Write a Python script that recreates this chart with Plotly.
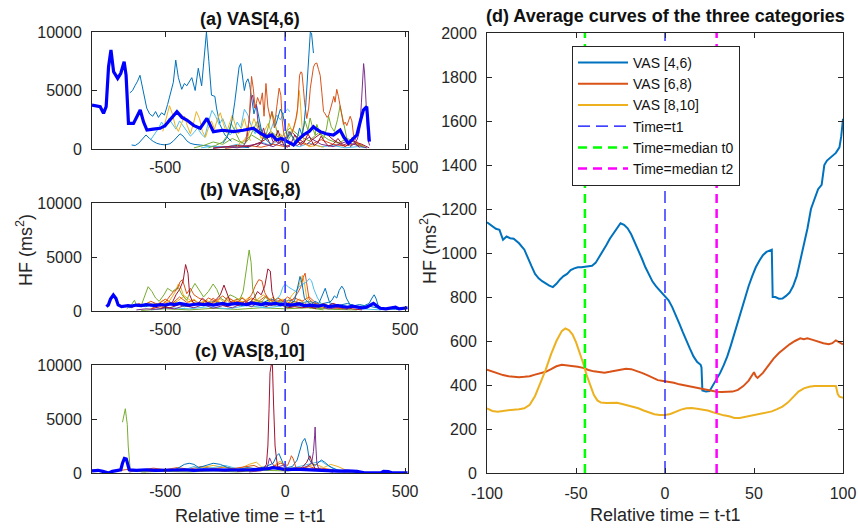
import plotly.graph_objects as go

# ---------------- data ----------------
# Panel (a) VAS[4,6): individual HF traces (relative time, HF value)
A_BLUE_1 = [(-647, 4800), (-636, 5000), (-626, 5400), (-615, 5800), (-605, 6300), (-598, 5600), (-591, 4600),
            (-577, 3500), (-565, 3000), (-552, 2800), (-540, 3200), (-528, 2700), (-515, 3100), (-503, 2900),
            (-490, 3800), (-478, 4800), (-466, 5700), (-456, 7600), (-445, 6100), (-431, 5100), (-420, 5600),
            (-410, 5400), (-398, 5800), (-389, 6100), (-375, 5000), (-362, 6900), (-348, 5400), (-340, 7500),
            (-334, 8600), (-328, 10000), (-318, 7500), (-307, 4600), (-293, 4500), (-286, 3500), (-272, 2100),
            (-251, 1200), (-224, 650)]
A_LIGHTBLUE = [(-560, 800), (-545, 1200), (-530, 1700), (-515, 2300), (-500, 1800), (-485, 2600), (-470, 2200),
               (-455, 1700), (-440, 2400), (-425, 2000), (-410, 1500), (-395, 1100), (-380, 1400), (-365, 1800),
               (-350, 1300), (-335, 1000), (-320, 2300), (-305, 3300), (-290, 2800), (-275, 2100), (-260, 2600),
               (-245, 1800), (-230, 1200), (-215, 1500), (-200, 2300), (-185, 1800), (-170, 3400), (-155, 2900),
               (-140, 1900), (-125, 1300), (-110, 2100), (-95, 1500), (-80, 800), (-65, 1300), (-50, 2200),
               (-35, 2900), (-20, 2500), (-5, 3100), (10, 3400), (20, 3200)]
A_YELLOW = [(-510, 1500), (-495, 2600), (-482, 3700), (-470, 3000), (-458, 2000), (-445, 1500), (-432, 2200),
            (-420, 2800), (-408, 2000), (-395, 1300), (-382, 2200), (-370, 3200), (-357, 2600), (-345, 1500),
            (-332, 1000), (-320, 1800), (-307, 2400), (-295, 1700), (-283, 2500), (-270, 3100), (-258, 2200),
            (-245, 1400), (-233, 2100), (-220, 2900), (-207, 2000), (-195, 1300), (-182, 1800), (-170, 2600),
            (-157, 1500), (-145, 700)]
A_BLUE_2 = [(-640, 340), (-625, 300), (-610, 500), (-595, 900), (-580, 1200), (-565, 900), (-550, 650),
            (-535, 490), (-520, 400), (-500, 350), (-480, 450), (-465, 700), (-450, 1000), (-438, 1300),
            (-425, 1100), (-410, 700), (-396, 490), (-380, 400), (-354, 340), (-330, 250), (-300, 200),
            (-270, 180), (-240, 150), (-210, 200), (-180, 150), (-150, 120)]
A_ORANGE = [(-165, 600), (-150, 2500), (-140, 6200), (-133, 5200), (-125, 3500), (-115, 4400), (-104, 3800),
            (-95, 4800), (-88, 2800), (-80, 5600), (-72, 3600), (-62, 2600), (-55, 3200), (-45, 1800),
            (-35, 3600), (-25, 5200), (-18, 4600), (-12, 2400), (-5, 1200), (5, 800), (15, 1500), (25, 1200),
            (35, 1800), (45, 2600), (52, 3500), (60, 6300), (66, 6600), (70, 6500), (76, 5200), (81, 4000),
            (90, 2600), (98, 3500), (105, 5200), (111, 6100), (118, 7000), (125, 7300), (132, 7350), (139, 6800),
            (146, 6300), (153, 4800), (160, 3200), (167, 3000), (175, 2700), (182, 2900), (188, 3400),
            (196, 4100), (203, 4500), (208, 4000), (215, 5100), (222, 4500), (229, 3800), (236, 2800),
            (243, 2100), (250, 2300), (257, 2000), (264, 2400), (271, 2800), (278, 2400), (285, 1200),
            (292, 900), (298, 600), (305, 400), (315, 300)]
A_PURPLE_1 = [(270, 200), (285, 400), (300, 800), (310, 1500), (318, 4000), (323, 6800), (327, 7300),
              (331, 6500), (336, 4000), (340, 2000), (345, 800), (352, 300)]
A_PURPLE_2 = [(-175, 200), (-160, 800), (-150, 2500), (-143, 4200), (-135, 4600), (-128, 3500), (-120, 3800),
              (-112, 2000), (-100, 1200), (-90, 1800), (-80, 900), (-65, 1400), (-50, 600), (-35, 900),
              (-20, 400), (0, 300), (20, 200)]
A_GREEN = [(-320, 100), (-290, 300), (-260, 600), (-240, 1200), (-225, 2200), (-210, 1500), (-190, 700),
           (-170, 400), (-150, 900), (-130, 1800), (-115, 2400), (-100, 1500), (-85, 800), (-70, 1900),
           (-55, 3200), (-45, 2500), (-35, 1500), (-20, 700), (-5, 500), (10, 700), (25, 1200), (40, 800),
           (55, 600), (70, 1200), (83, 2400), (95, 1600), (104, 2650), (115, 1800), (125, 1200), (132, 2100),
           (145, 1300), (160, 900), (172, 1700), (181, 2800), (192, 1900), (205, 1500), (218, 2500),
           (229, 3700), (238, 2800), (248, 1500), (260, 600), (275, 200)]
A_DARKRED = [(-120, 200), (-100, 500), (-85, 1400), (-72, 800), (-60, 300), (-45, 700), (-30, 1600), (-18, 900),
             (-5, 300), (10, 150), (25, 500), (40, 1200), (52, 700), (65, 300), (80, 600), (95, 1300), (108, 800),
             (120, 300), (135, 500), (150, 1100), (165, 600), (180, 250), (200, 400), (220, 900), (235, 500),
             (250, 200), (265, 500), (280, 1000), (295, 400), (310, 150)]
A_BLUE_3 = [(-40, 2000), (-30, 2800), (-20, 3400), (-10, 3000), (0, 1800), (10, 900), (20, 1500), (30, 1000),
            (40, 600), (50, 900), (60, 1800), (70, 1200), (78, 2000), (85, 3500), (90, 5200), (95, 7500),
            (100, 8600), (105, 10000), (110, 9900), (114, 8600), (118, 8200)]
A_BLUE_4 = [(-260, 500), (-245, 900), (-232, 1500), (-220, 2600), (-210, 4000), (-200, 5600), (-192, 7000),
            (-185, 7300), (-178, 6200), (-170, 5000), (-163, 5700), (-155, 6000), (-148, 5500), (-140, 4200),
            (-130, 3000), (-120, 3800), (-110, 2600), (-98, 1500), (-85, 900), (-70, 600), (-55, 400)]
A_YELLOW_2 = [(-200, 300), (-170, 800), (-150, 1400), (-130, 2600), (-115, 1800), (-100, 900), (-85, 1600),
              (-70, 2200), (-55, 1200), (-40, 600), (-20, 1300), (0, 700), (15, 2200), (30, 1400), (42, 2200),
              (50, 3000), (58, 5000), (62, 4400), (70, 2000), (80, 500), (100, 200), (130, 300), (160, 150)]
A_LIGHTBLUE_2 = [(-350, 100), (-300, 250), (-250, 150), (-200, 400), (-150, 200), (-100, 600), (-60, 300),
                 (-20, 900), (20, 400), (60, 200), (100, 500), (150, 200), (200, 300), (250, 100), (300, 200),
                 (340, 100)]
A_ORANGE_2 = [(-250, 50), (-200, 150), (-150, 300), (-100, 150), (-50, 400), (0, 200), (50, 600), (100, 300),
              (150, 800), (200, 400), (250, 250), (300, 500), (330, 200)]
A_PURPLE_3 = [(-300, 100), (-250, 200), (-200, 100), (-150, 300), (-100, 500), (-50, 200), (0, 800), (50, 300),
              (100, 1000), (150, 400), (200, 200), (250, 600), (300, 300), (340, 100)]
A_GREEN_2 = [(-380, 100), (-340, 300), (-300, 600), (-260, 400), (-220, 900), (-180, 500), (-140, 1200),
             (-100, 700), (-60, 1500), (-20, 900), (20, 1800), (60, 1100), (100, 700), (140, 1400), (180, 800),
             (220, 500), (260, 900), (300, 400), (330, 200)]
A_DARKRED_2 = [(-300, 50), (-250, 150), (-200, 300), (-150, 200), (-100, 600), (-60, 1100), (-30, 500), (0, 900),
               (30, 1400), (60, 800), (90, 400), (120, 900), (160, 1500), (200, 800), (240, 300), (280, 700),
               (320, 400), (350, 100)]
A_AVERAGE = [(-805, 3760), (-785, 3700), (-771, 3615), (-757, 3050), (-746, 3615), (-736, 7030), (-726, 8460),
             (-715, 6610), (-698, 6040), (-685, 6470), (-671, 7460), (-663, 6320), (-653, 2190), (-632, 2190),
             (-604, 3330), (-590, 2300), (-576, 1620), (-550, 1700), (-521, 1770), (-500, 2000), (-479, 2480),
             (-451, 3190), (-430, 2700), (-410, 2480), (-380, 2000), (-354, 1770), (-326, 2620), (-310, 1900),
             (-299, 1480), (-260, 1600), (-215, 1480), (-175, 1600), (-132, 1770), (-100, 1300), (-76, 1050),
             (-55, 1200), (-35, 770), (-15, 900), (7, 630), (20, 500), (35, 340), (55, 800), (76, 1200),
             (100, 1500), (118, 1910), (130, 1700), (146, 1480), (170, 1300), (201, 1200), (215, 1400),
             (229, 1620), (245, 1000), (264, 490), (280, 800), (299, 1200), (315, 2500), (326, 3330),
             (340, 3615), (346, 2000), (351, 630)]

# Panel (b) VAS[6,8)
B_GREEN = [(-660, 200), (-640, 600), (-628, 1000), (-618, 400), (-600, 500), (-585, 1500), (-571, 2250),
           (-555, 1800), (-540, 1200), (-525, 900), (-505, 1500), (-490, 2100), (-470, 1800), (-446, 2200),
           (-430, 1500), (-410, 1000), (-395, 1800), (-376, 2550), (-360, 2000), (-340, 1300), (-320, 1800),
           (-300, 2500), (-285, 2000), (-270, 1200), (-250, 900), (-230, 1500), (-210, 1300), (-190, 1000),
           (-175, 1800), (-160, 4000), (-150, 5650), (-142, 4500), (-135, 2000), (-120, 1000), (-100, 800),
           (-80, 1300), (-60, 700), (-40, 500), (-20, 900), (0, 400), (20, 300), (40, 500), (60, 800),
           (80, 600), (100, 300), (130, 200), (160, 100)]
B_DARKRED = [(-520, 200), (-490, 500), (-470, 800), (-455, 1500), (-440, 2000), (-425, 2800), (-415, 4300),
             (-405, 3500), (-398, 1500), (-385, 800), (-365, 600), (-345, 1200), (-330, 900), (-310, 600),
             (-290, 1000), (-270, 1500), (-255, 2400), (-245, 1800), (-230, 900), (-210, 600), (-190, 500),
             (-170, 900), (-150, 700), (-130, 1200), (-115, 1800), (-100, 1500), (-85, 2300), (-72, 3900),
             (-62, 3700), (-55, 1800), (-45, 900), (-30, 600), (-10, 500), (10, 300), (40, 400), (70, 300),
             (100, 400), (130, 200)]
B_ORANGE = [(-560, 200), (-530, 500), (-500, 800), (-480, 1400), (-465, 1800), (-450, 2000), (-438, 2700),
            (-428, 2900), (-420, 2200), (-410, 1600), (-395, 2100), (-380, 1500), (-360, 1200), (-340, 1000),
            (-320, 700), (-300, 1200), (-280, 800), (-260, 600), (-240, 1300), (-220, 1000), (-200, 700),
            (-180, 1200), (-160, 900), (-140, 1500), (-125, 2300), (-110, 2900), (-97, 2800), (-85, 1700),
            (-70, 1100), (-50, 900), (-30, 1200), (-10, 900), (10, 1300), (30, 1000), (50, 1600), (65, 2200),
            (75, 3100), (83, 3500), (92, 2400), (100, 1100), (115, 800), (135, 500), (160, 700), (190, 400),
            (230, 300), (270, 200)]
B_LIGHTBLUE = [(-100, 300), (-70, 600), (-40, 900), (-20, 1500), (-10, 2200), (0, 2500), (15, 2200),
               (30, 2000), (45, 1800), (60, 2300), (75, 2500), (90, 2700), (100, 3000), (110, 2800),
               (120, 2000), (135, 1200), (150, 700), (170, 400), (200, 300)]
B_BLUE = [(0, 300), (20, 600), (40, 1000), (55, 2500), (62, 3200), (70, 2600), (80, 1200), (95, 800),
          (110, 600), (125, 900), (140, 700), (150, 1200), (160, 1800), (167, 2100), (175, 1500), (185, 800),
          (195, 1000), (205, 1400), (215, 1200), (225, 1900), (236, 2300), (245, 2000), (255, 1200), (270, 600),
          (290, 500), (310, 600), (330, 500), (350, 700), (362, 1200), (371, 1500), (378, 1200), (388, 500),
          (400, 300)]
B_YELLOW = [(-520, 300), (-500, 700), (-480, 1000), (-460, 1700), (-445, 2500), (-435, 2200), (-420, 1200),
            (-400, 800), (-380, 1100), (-360, 700), (-340, 900), (-320, 600), (-290, 1000), (-260, 700),
            (-230, 1100), (-200, 800), (-170, 900), (-150, 1300), (-130, 800), (-110, 1000), (-90, 600),
            (-70, 900), (-50, 1300), (-30, 800), (-10, 1100), (10, 900), (30, 1500), (50, 2000), (65, 2800),
            (72, 3300), (80, 2600), (90, 1200), (105, 700), (125, 500), (150, 300)]
B_PURPLE = [(-620, 100), (-580, 200), (-540, 150), (-500, 300), (-460, 200), (-420, 500), (-380, 300),
            (-340, 600), (-300, 250), (-260, 500), (-220, 300), (-180, 700), (-140, 400), (-100, 900),
            (-60, 500), (-20, 700), (20, 400), (60, 600), (100, 300), (140, 400), (180, 200), (220, 300),
            (260, 150)]
B_GREEN_2 = [(-600, 50), (-500, 200), (-400, 100), (-300, 250), (-200, 150), (-100, 300), (0, 200), (100, 300),
             (200, 150), (300, 100)]
B_LIGHTBLUE_2 = [(-560, 100), (-480, 300), (-400, 200), (-320, 400), (-240, 200), (-160, 500), (-80, 300),
                 (0, 500), (80, 400), (160, 300), (240, 500), (320, 200), (400, 100)]
B_ORANGE_2 = [(-640, 300), (-610, 700), (-590, 500), (-560, 900), (-530, 600), (-500, 1100), (-470, 700),
              (-440, 1300), (-410, 800), (-380, 1000), (-350, 600), (-320, 1200), (-290, 900), (-260, 1400),
              (-230, 800), (-200, 1100), (-170, 700), (-140, 1200), (-110, 900), (-80, 1400), (-50, 800),
              (-20, 1000), (10, 700), (40, 1200), (70, 900), (100, 1300), (130, 700), (160, 500), (200, 300),
              (240, 200)]
B_YELLOW_2 = [(-600, 400), (-570, 800), (-540, 500), (-510, 1000), (-480, 600), (-450, 900), (-420, 1400),
              (-390, 900), (-360, 600), (-330, 1000), (-300, 700), (-270, 1100), (-240, 500), (-210, 900),
              (-180, 1300), (-150, 700), (-120, 1000), (-90, 1500), (-60, 800), (-30, 1200), (0, 900), (30, 700),
              (60, 1100), (90, 600), (120, 400), (160, 300)]
B_BLUE_2 = [(-650, 300), (-620, 500), (-580, 400), (-540, 700), (-500, 500), (-460, 800), (-420, 400),
            (-380, 700), (-340, 500), (-300, 900), (-260, 600), (-220, 800), (-180, 500), (-140, 900),
            (-100, 700), (-60, 1100), (-20, 800), (20, 1000), (60, 700), (100, 900), (140, 600), (180, 800),
            (220, 500), (260, 700), (300, 400), (340, 500), (380, 300), (420, 200), (460, 150), (500, 200)]
B_DARKRED_2 = [(-560, 200), (-520, 400), (-480, 300), (-440, 600), (-400, 400), (-360, 800), (-320, 500),
               (-280, 700), (-240, 400), (-200, 900), (-160, 600), (-120, 700), (-80, 400), (-40, 800), (0, 500),
               (40, 900), (80, 600), (120, 400), (160, 300), (200, 700), (240, 400), (280, 200), (320, 100)]
B_AVERAGE = [(-745, 400), (-737, 560), (-728, 1100), (-716, 1480), (-705, 1150), (-696, 560), (-682, 400),
             (-670, 450), (-655, 500), (-640, 450), (-620, 550), (-600, 500), (-580, 600), (-560, 550),
             (-540, 500), (-520, 600), (-500, 550), (-480, 650), (-460, 600), (-440, 700), (-420, 650),
             (-400, 550), (-380, 600), (-360, 650), (-340, 600), (-320, 650), (-300, 550), (-280, 600),
             (-260, 700), (-240, 600), (-220, 650), (-200, 700), (-180, 650), (-160, 600), (-140, 750),
             (-120, 650), (-100, 600), (-80, 700), (-60, 650), (-40, 700), (-20, 600), (0, 650), (20, 550),
             (40, 600), (60, 650), (80, 500), (100, 550), (120, 500), (140, 450), (160, 550), (180, 400),
             (200, 450), (220, 500), (240, 400), (260, 350), (280, 450), (300, 350), (320, 300), (340, 350),
             (355, 550), (368, 710), (380, 500), (396, 250), (420, 200), (440, 300), (460, 350), (475, 200),
             (490, 250), (510, 300)]

# Panel (c) VAS[8,10]
C_GREEN = [(-678, 4700), (-674, 5200), (-670, 5600), (-666, 5950), (-662, 5200), (-658, 4500), (-654, 2500),
           (-650, 1300), (-646, 400), (-640, 200), (-620, 150), (-580, 100)]
C_DARKRED = [(-200, 150), (-150, 250), (-110, 300), (-90, 400), (-78, 800), (-72, 2500), (-67, 6000),
             (-63, 9300), (-58, 10000), (-53, 10000), (-48, 6200), (-42, 2500), (-36, 1300), (-30, 500),
             (-15, 300), (0, 250), (40, 300), (70, 500), (90, 1000), (103, 1600), (112, 1000), (125, 400),
             (150, 200), (200, 100)]
C_PURPLE = [(-150, 100), (-100, 200), (-75, 500), (-65, 1400), (-55, 900), (-40, 500), (-10, 700), (20, 300),
            (60, 400), (90, 600), (110, 900), (118, 2000), (123, 3500), (125, 4260), (128, 2500), (132, 900),
            (140, 400), (170, 200), (200, 100)]
C_BLUE = [(-480, 200), (-450, 400), (-420, 800), (-400, 900), (-380, 800), (-360, 500), (-330, 700), (-300, 900),
          (-270, 800), (-240, 500), (-200, 300), (-160, 500), (-120, 400), (-80, 600), (-50, 900), (-35, 1600),
          (-26, 1800), (-15, 1200), (-5, 700), (10, 500), (30, 600), (50, 1200), (62, 2200), (72, 2900),
          (82, 3200), (92, 2500), (100, 1300), (110, 900), (125, 700), (140, 1000), (151, 1200), (165, 1000),
          (180, 700), (195, 500), (215, 300), (240, 150)]
C_ORANGE = [(-350, 200), (-300, 400), (-250, 300), (-180, 500), (-130, 700), (-100, 400), (-60, 500),
            (-20, 900), (10, 700), (20, 1200), (26, 1600), (34, 1300), (45, 500), (70, 400), (100, 600),
            (130, 400), (170, 300), (220, 150)]
C_YELLOW = [(-500, 150), (-450, 400), (-400, 200), (-350, 500), (-300, 700), (-250, 500), (-200, 300),
            (-150, 800), (-120, 1000), (-100, 600), (-70, 300), (-40, 800), (-20, 1100), (0, 500), (30, 400),
            (60, 300), (100, 700), (130, 800), (160, 500), (190, 800), (220, 600), (260, 200), (300, 100)]
C_LIGHTBLUE = [(-420, 300), (-380, 600), (-350, 400), (-300, 500), (-250, 700), (-200, 400), (-150, 300),
               (-100, 500), (-40, 400), (0, 300), (40, 500), (80, 700), (120, 900), (150, 1100), (170, 800),
               (200, 400), (240, 200)]
C_GREEN_2 = [(-600, 100), (-500, 150), (-400, 100), (-300, 200), (-200, 100), (-100, 250), (0, 200), (100, 300),
             (200, 150), (300, 50)]
C_ORANGE_2 = [(-700, 200), (-650, 350), (-600, 250), (-550, 450), (-500, 300), (-450, 500), (-400, 350),
              (-350, 600), (-300, 400), (-250, 550), (-200, 350), (-150, 450), (-100, 300), (-50, 600), (0, 400),
              (50, 500), (100, 350), (150, 450), (200, 300), (250, 200), (300, 100)]
C_PURPLE_2 = [(-650, 100), (-600, 250), (-550, 150), (-500, 300), (-450, 200), (-400, 350), (-350, 200),
              (-300, 300), (-250, 150), (-200, 350), (-150, 200), (-100, 300), (-50, 450), (0, 250), (50, 400),
              (100, 300), (150, 200), (200, 250), (250, 100)]
C_AVERAGE = [(-805, 200), (-780, 250), (-760, 150), (-745, 50), (-735, 0), (-720, 150), (-700, 250),
             (-685, 300), (-678, 900), (-670, 1350), (-662, 1300), (-656, 700), (-650, 300), (-620, 250),
             (-580, 300), (-540, 250), (-500, 300), (-460, 280), (-420, 300), (-380, 250), (-340, 300),
             (-300, 280), (-260, 250), (-220, 300), (-180, 280), (-140, 300), (-100, 350), (-70, 400),
             (-50, 500), (-30, 450), (-10, 350), (10, 300), (40, 350), (80, 300), (120, 280), (150, 250),
             (180, 200), (220, 180), (260, 200), (300, 150), (330, 20), (360, 0), (400, 30), (410, 150),
             (430, 120), (445, 20), (480, 0), (510, 20)]

# Panel (d): average curves of the three categories (relative time, HF)
D_VAS46 = [(-100, 1140), (-97, 1120), (-95, 1110), (-93, 1105), (-91, 1060), (-89, 1075), (-87, 1067), (-85, 1065),
           (-82, 1044), (-79, 1015), (-77, 975), (-75, 940), (-73, 905), (-71, 885), (-69, 872), (-67, 860),
           (-65, 852), (-63, 845), (-61, 860), (-59, 880), (-57, 895), (-55, 905), (-53, 922), (-51, 930),
           (-49, 935), (-47, 935), (-45, 937), (-43, 940), (-41, 942), (-39, 955), (-37, 980), (-35, 1005),
           (-33, 1035), (-31, 1065), (-29, 1090), (-27, 1115), (-25, 1135), (-23, 1128), (-21, 1112),
           (-19, 1085), (-17, 1050), (-15, 1012), (-13, 975), (-11, 935), (-9, 900), (-7, 870), (-5, 848),
           (-3, 830), (-1, 812), (0, 805), (2, 785), (4, 755), (6, 720), (8, 680), (10, 640), (12, 600),
           (14, 565), (16, 530), (18, 505), (20, 492), (20.5, 480), (21, 375), (23, 370), (25, 372), (27, 400),
           (29, 428), (31, 455), (33, 490), (35, 530), (37, 580), (39, 635), (41, 690), (43, 745), (45, 800),
           (47, 850), (49, 895), (51, 935), (53, 965), (55, 990), (57, 1005), (59, 1012), (60, 1015),
           (60.5, 800), (62, 800), (64, 792), (66, 793), (68, 805), (70, 820), (72, 850), (74, 895), (75, 930),
           (78, 1030), (80, 1110), (82, 1200), (84, 1250), (86, 1290), (88, 1310), (89.5, 1400), (91, 1420),
           (93, 1435), (96, 1455), (98, 1480), (99, 1530), (100, 1610)]
D_VAS68 = [(-100, 470), (-97, 462), (-94, 452), (-91, 445), (-88, 440), (-85, 438), (-82, 435), (-79, 437),
           (-76, 440), (-73, 447), (-70, 453), (-67, 460), (-64, 472), (-61, 485), (-58, 492), (-55, 490),
           (-52, 487), (-49, 483), (-46, 478), (-43, 468), (-40, 462), (-37, 458), (-34, 456), (-31, 460),
           (-28, 465), (-25, 470), (-22, 474), (-19, 472), (-16, 465), (-13, 455), (-10, 445), (-7, 432),
           (-4, 422), (-1, 418), (2, 415), (5, 410), (8, 403), (11, 398), (14, 395), (17, 390), (20, 385),
           (23, 378), (26, 372), (29, 369), (32, 368), (35, 368), (38, 370), (41, 378), (44, 395), (47, 420),
           (49, 445), (50, 458), (51, 440), (52, 432), (55, 455), (58, 490), (61, 520), (64, 545), (67, 565),
           (70, 585), (73, 600), (76, 612), (78, 608), (80, 612), (83, 605), (86, 597), (89, 590), (92, 585),
           (94, 590), (96, 603), (98, 595), (100, 585)]
D_VAS810 = [(-100, 294), (-97, 282), (-94, 279), (-91, 283), (-88, 286), (-85, 288), (-82, 290), (-79, 294),
            (-76, 310), (-73, 350), (-70, 410), (-67, 470), (-64, 540), (-61, 600), (-58, 645), (-56, 657),
            (-54, 650), (-52, 630), (-50, 595), (-48, 550), (-46, 500), (-44, 445), (-42, 395), (-40, 355),
            (-38, 330), (-36, 320), (-33, 318), (-30, 320), (-27, 319), (-24, 314), (-21, 308), (-18, 302),
            (-15, 294), (-12, 284), (-9, 274), (-6, 267), (-3, 264), (0, 264), (3, 268), (6, 278), (9, 288),
            (12, 294), (15, 295), (18, 292), (21, 288), (24, 284), (27, 276), (30, 268), (33, 262), (36, 258),
            (39, 250), (42, 250), (45, 255), (48, 258), (51, 262), (54, 268), (57, 274), (60, 280), (63, 290),
            (66, 302), (69, 320), (72, 345), (75, 370), (78, 385), (81, 392), (84, 395), (87, 395), (90, 395),
            (93, 394), (96, 395), (97, 360), (98, 347), (100, 342)]

# Reference times (relative to t1)
T1 = 0
MEDIAN_T0 = -45
MEDIAN_T2 = 29

LEFT_XTICKS = [-500, 0, 500]
LEFT_YTICKS = [0, 5000, 10000]
D_XTICKS = [-100, -50, 0, 50, 100]
D_YTICKS = list(range(0, 2001, 200))

# ---------------- styling ----------------
W, H = 858, 532
FONT = "Liberation Sans, Arial, Helvetica, sans-serif"
AX = "#262626"
C_BLUE_M = "#0072BD"
C_ORANGE_M = "#D95319"
C_YELLOW_M = "#EDB120"
C_PURPLE_M = "#7E2F8E"
C_GREEN_M = "#77AC30"
C_LBLUE_M = "#4DBEEE"
C_DRED_M = "#A2142F"


def xdom(left, right):
    return [left / W, right / W]


def ydom(top, bottom):
    return [1 - bottom / H, 1 - top / H]


def unzip(points):
    return [p[0] for p in points], [p[1] for p in points]


fig = go.Figure()


def axis_ids(panel):
    return ("x", "y") if panel == 1 else (f"x{panel}", f"y{panel}")


def thin(points, color, panel):
    x, y = unzip(points)
    xa, ya = axis_ids(panel)
    fig.add_trace(go.Scatter(x=x, y=y, mode="lines", line=dict(color=color, width=1),
                             xaxis=xa, yaxis=ya, showlegend=False, hoverinfo="skip"))


def thick(points, panel):
    x, y = unzip(points)
    xa, ya = axis_ids(panel)
    fig.add_trace(go.Scatter(x=x, y=y, mode="lines", line=dict(color="#0000FF", width=3.2),
                             xaxis=xa, yaxis=ya, showlegend=False, hoverinfo="skip"))


def t1_line(panel, ymax):
    xa, ya = axis_ids(panel)
    fig.add_trace(go.Scatter(x=[T1, T1], y=[0, ymax], mode="lines",
                             line=dict(color="#3B3BFF", width=1.6, dash="12px,6px"),
                             xaxis=xa, yaxis=ya, showlegend=False, hoverinfo="skip"))


# Panel (a)
for pts, col in [(A_BLUE_2, C_BLUE_M), (A_LIGHTBLUE_2, C_LBLUE_M), (A_ORANGE_2, C_ORANGE_M),
                 (A_PURPLE_3, C_PURPLE_M), (A_GREEN_2, C_GREEN_M), (A_DARKRED_2, C_DRED_M),
                 (A_BLUE_1, C_BLUE_M), (A_LIGHTBLUE, C_LBLUE_M),
                 (A_YELLOW, C_YELLOW_M), (A_YELLOW_2, C_YELLOW_M), (A_GREEN, C_GREEN_M),
                 (A_DARKRED, C_DRED_M), (A_BLUE_4, C_BLUE_M), (A_PURPLE_2, C_PURPLE_M),
                 (A_ORANGE, C_ORANGE_M), (A_BLUE_3, C_BLUE_M), (A_PURPLE_1, C_PURPLE_M)]:
    thin(pts, col, 1)
thick(A_AVERAGE, 1)
t1_line(1, 10000)

# Panel (b)
for pts, col in [(B_GREEN_2, C_GREEN_M), (B_LIGHTBLUE_2, C_LBLUE_M), (B_PURPLE, C_PURPLE_M),
                 (B_BLUE_2, C_BLUE_M), (B_DARKRED_2, C_DRED_M), (B_YELLOW_2, C_YELLOW_M),
                 (B_ORANGE_2, C_ORANGE_M),
                 (B_YELLOW, C_YELLOW_M), (B_GREEN, C_GREEN_M), (B_ORANGE, C_ORANGE_M),
                 (B_DARKRED, C_DRED_M), (B_LIGHTBLUE, C_LBLUE_M), (B_BLUE, C_BLUE_M)]:
    thin(pts, col, 2)
thick(B_AVERAGE, 2)
t1_line(2, 10000)

# Panel (c)
for pts, col in [(C_GREEN_2, C_GREEN_M), (C_PURPLE_2, C_PURPLE_M), (C_ORANGE_2, C_ORANGE_M),
                 (C_YELLOW, C_YELLOW_M), (C_LIGHTBLUE, C_LBLUE_M),
                 (C_BLUE, C_BLUE_M), (C_ORANGE, C_ORANGE_M), (C_PURPLE, C_PURPLE_M),
                 (C_DARKRED, C_DRED_M), (C_GREEN, C_GREEN_M)]:
    thin(pts, col, 3)
thick(C_AVERAGE, 3)
t1_line(3, 10000)

# Panel (d): average curves and reference times
for pts, col, name in [(D_VAS46, C_BLUE_M, "VAS [4,6)"), (D_VAS68, C_ORANGE_M, "VAS [6,8)"),
                       (D_VAS810, C_YELLOW_M, "VAS [8,10]")]:
    x, y = unzip(pts)
    fig.add_trace(go.Scatter(x=x, y=y, mode="lines", name=name, line=dict(color=col, width=2),
                             xaxis="x4", yaxis="y4", hoverinfo="skip"))
for xv, col, w, dash, name in [(T1, "#0000FF", 1.2, "12px,6px", "Time=t1"),
                               (MEDIAN_T0, "#00FF00", 2.5, "9px,6px", "Time=median t0"),
                               (MEDIAN_T2, "#FF00FF", 2.5, "9px,6px", "Time=median t2")]:
    fig.add_trace(go.Scatter(x=[xv, xv], y=[D_YTICKS[0], D_YTICKS[-1]], mode="lines", name=name,
                             line=dict(color=col, width=w, dash=dash),
                             xaxis="x4", yaxis="y4", hoverinfo="skip"))

tickfont = dict(family=FONT, size=16, color=AX)
axis_common = dict(showline=True, linecolor=AX, linewidth=1, mirror="ticks", ticks="inside",
                   ticklen=5, tickcolor=AX, tickwidth=1, showgrid=False, zeroline=False,
                   tickfont=tickfont, automargin=False)


def left_x(dom_anchor):
    return dict(axis_common, domain=xdom(92, 408), range=[-805, 512], anchor=dom_anchor,
                tickvals=LEFT_XTICKS, ticktext=[f"{v}" for v in LEFT_XTICKS], ticklabelstandoff=4)


def left_y(top, bottom, anchor):
    return dict(axis_common, domain=ydom(top, bottom), range=[0, 10000], anchor=anchor,
                tickvals=LEFT_YTICKS, ticktext=[f"{v}" for v in LEFT_YTICKS], ticklabelstandoff=6)


fig.update_layout(
    width=W, height=H,
    margin=dict(l=0, r=0, t=0, b=0, autoexpand=False),
    paper_bgcolor="white", plot_bgcolor="white",
    font=dict(family=FONT, color=AX),
    xaxis=left_x("y"), yaxis=left_y(32, 149, "x"),
    xaxis2=left_x("y2"), yaxis2=left_y(203, 311, "x2"),
    xaxis3=left_x("y3"), yaxis3=left_y(365, 473, "x3"),
    xaxis4=dict(axis_common, domain=xdom(487, 843), range=[-100, 100], anchor="y4",
                tickvals=D_XTICKS, ticktext=[f"{v}" for v in D_XTICKS], ticklabelstandoff=6),
    yaxis4=dict(axis_common, domain=ydom(33, 473), range=[0, 2000], anchor="x4",
                tickvals=D_YTICKS, ticktext=[f"{v}" for v in D_YTICKS], ticklabelstandoff=6),
    showlegend=True,
    legend=dict(x=572 / W, y=1 - 46 / H, xanchor="left", yanchor="top",
                bgcolor="white", bordercolor=AX, borderwidth=1,
                font=dict(family=FONT, size=14, color="#111111"),
                itemwidth=50, tracegroupgap=0),
)

title_font = dict(family=FONT, size=18, color="#111111")
label_font = dict(family=FONT, size=18, color=AX)
annotations = [
    dict(text="<b>(a) VAS[4,6)</b>", x=250 / W, y=1 - 19 / H, font=title_font),
    dict(text="<b>(b) VAS[6,8)</b>", x=250 / W, y=1 - 190 / H, font=title_font),
    dict(text="<b>(c) VAS[8,10]</b>", x=250 / W, y=1 - 351 / H, font=title_font),
    dict(text="<b>(d) Average curves of the three categories</b>", x=665 / W, y=1 - 16 / H, font=title_font),
    dict(text="Relative time = t-t1", x=250 / W, y=1 - 516 / H, font=label_font),
    dict(text="Relative time = t-t1", x=665 / W, y=1 - 515 / H, font=label_font),
    dict(text="HF (ms<sup>2</sup>)", x=24 / W, y=1 - 250 / H, font=label_font, textangle=-90),
    dict(text="HF (ms<sup>2</sup>)", x=428 / W, y=1 - 248 / H, font=label_font, textangle=-90),
]
fig.update_layout(annotations=[dict(a, xref="paper", yref="paper", showarrow=False,
                                    xanchor="center", yanchor="middle") for a in annotations])

fig.write_html("out.html")
